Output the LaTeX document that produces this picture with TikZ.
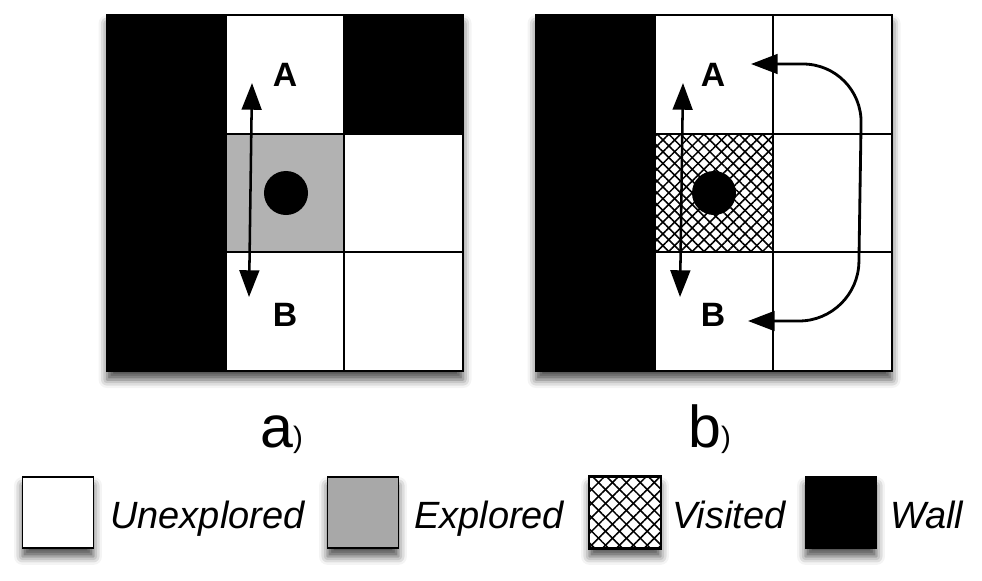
\documentclass[tikz,border=0pt]{standalone}
\usepackage{fontspec}
\setmainfont{Liberation Sans}
\usetikzlibrary{arrows.meta,patterns.meta,shadows.blur}
\definecolor{explgray}{gray}{0.70}
\definecolor{keygray}{gray}{0.66}

\begin{document}
\begin{tikzpicture}[x=0.025cm, y=-0.025cm,
  panel/.style={blur shadow={shadow xshift=0pt, shadow yshift=-6pt, shadow blur radius=6pt, shadow opacity=70}},
  wall/.style={fill=black},
  explored/.style={fill=explgray},
  visited/.style={pattern={Lines[angle=45, distance=#1, line width=1.1pt]},
                  postaction={pattern={Lines[angle=-45, distance=#1, line width=1.1pt]}}},
  visited/.default=5.9pt,
  gridline/.style={line width=1.4pt},
  robot/.style={circle, fill=black, minimum size=1.1cm, inner sep=0pt},
  letter/.style={font=\fontsize{24}{24}\selectfont\bfseries, inner sep=0pt},
  twoway/.style={line width=1.8pt, {Triangle[length=19pt, width=14pt]}-{Triangle[length=19pt, width=14pt]}},
  caption/.style={anchor=base west, inner sep=0pt},
  keybox/.style={draw, line width=1.2pt, minimum size=1.775cm, inner sep=0pt, panel},
  keytext/.style={anchor=base west, inner sep=0pt, font=\fontsize{27}{27}\selectfont\itshape}]
\useasboundingbox (0,0) rectangle (982,580);

% grid a
\begin{scope}[shift={(107,15)}, x=2.967cm, y=-2.967cm]
  \fill[white, panel] (0,0) rectangle (3,3);
  \fill[wall] (0,0) rectangle (1,3);
  \fill[wall] (2,0) rectangle (3,1);
  \fill[explored] (1,1) rectangle (2,2);
  \foreach \k in {1,2} {
    \draw[gridline] (1,\k) -- (3,\k);
    \draw[gridline] (\k,0) -- (\k,3);
  }
  \draw[gridline] (0,0) rectangle (3,3);
\end{scope}
\node[robot] (a-robot) at (286,193) {};
\node[letter] (a-A) at (285,75) {A};
\node[letter] (a-B) at (285,315) {B};
\coordinate (a-up) at (252,83);
\coordinate (a-dn) at (249,297);
\draw[twoway] (a-up) -- (a-dn);

% grid b
\begin{scope}[shift={(536,15)}, x=2.967cm, y=-2.967cm]
  \fill[white, panel] (0,0) rectangle (3,3);
  \fill[wall] (0,0) rectangle (1,3);
  \fill[white, visited] (1,1) rectangle (2,2);
  \foreach \k in {1,2} {
    \draw[gridline] (1,\k) -- (3,\k);
    \draw[gridline] (\k,0) -- (\k,3);
  }
  \draw[gridline] (0,0) rectangle (3,3);
\end{scope}
\node[robot] (b-robot) at (714,193) {};
\node[letter] (b-A) at (713,75) {A};
\node[letter] (b-B) at (713,315) {B};
\coordinate (b-up) at (683,83);
\coordinate (b-dn) at (680,297);
\draw[twoway] (b-up) -- (b-dn);
\coordinate (b-in) at (751,64);
\coordinate (b-out) at (748,321);
\draw[twoway, line width=2pt, rounded corners=42pt] (b-in) -- (862,64) -- (858,321) -- (b-out);

% captions
\node[caption] (cap-a) at (260,447) {\fontsize{42}{42}\selectfont a\fontsize{21}{21}\selectfont)};
\node[caption] (cap-b) at (688,447) {\fontsize{42}{42}\selectfont b\fontsize{21}{21}\selectfont)};

% legend
\node[keybox, fill=white] (key-unexp) at (58,512.5) {};
\node[keytext] (txt-unexp) at (110,528) {Unexplored};
\node[keybox, fill=keygray] (key-expl) at (363,512.5) {};
\node[keytext] (txt-expl) at (414,528) {Explored};
\node[keybox, fill=white] (key-vis) at (625,512.5) {};
\path[visited=7pt] (key-vis.south west) rectangle (key-vis.north east);
\draw[line width=1.2pt] (key-vis.south west) rectangle (key-vis.north east);
\node[keytext] (txt-vis) at (672,528) {Visited};
\node[keybox, fill=black] (key-wall) at (841,512.5) {};
\node[keytext] (txt-wall) at (890,528) {Wall};
\end{tikzpicture}
\end{document}
